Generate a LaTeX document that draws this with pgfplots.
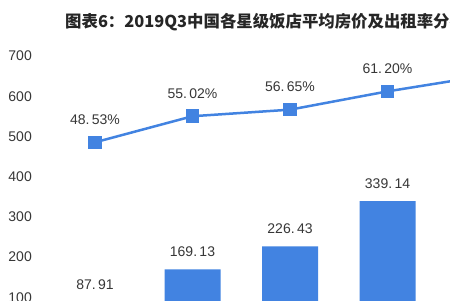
\documentclass[border=0pt]{standalone}
\usepackage{pgfplots}
\pgfplotsset{compat=1.18}
\usepackage{fontspec}
\setmainfont{Liberation Sans}
\newfontfamily\cjk{Noto Sans CJK SC}
\definecolor{barblue}{RGB}{66,131,225}
\definecolor{txt}{RGB}{55,55,55}
\definecolor{titlec}{RGB}{38,38,38}
\begin{document}
\begin{tikzpicture}[x=1bp,y=1bp]
\useasboundingbox (0,0) rectangle (450,300);
\clip (0,0) rectangle (450,300);
\fill[white] (0,0) rectangle (450,300);
\pgfplotsset{base/.style={
  scale only axis, width=460bp, height=337.4bp,
  at={(40bp,-37.4bp)}, anchor=south west,
  xmin=-0.5641, xmax=4.1538,
  axis line style={draw=none}, xtick=\empty, major tick length=0pt,
  /pgf/number format/assume math mode=true,
  /pgf/number format/dec sep={.\,},
  /pgf/number format/fixed, /pgf/number format/fixed zerofill,
  /pgf/number format/precision=2,
}}
\begin{axis}[base,
  ymin=0, ymax=839.3,
  ytick={100,200,300,400,500,600,700},
  yticklabel style={font=\fontsize{14bp}{16bp}\selectfont, text=txt, inner sep=0pt, xshift=-8bp,
    /pgf/number format/precision=0, /pgf/number format/fixed zerofill=false},
  ybar, bar width=56bp,
  nodes near coords,
  every node near coord/.append style={font=\fontsize{14bp}{16bp}\selectfont, text=txt, anchor=south, inner sep=0pt, yshift=12.5bp},
]
\addplot[fill=barblue, draw=none] coordinates {(0,87.91) (1,169.13) (2,226.43) (3,339.14)};
\end{axis}
\begin{axis}[base, hide axis,
  ymin=0, ymax=83.93,
  nodes near coords={\pgfmathprintnumber{\pgfplotspointmeta}\%},
  every node near coord/.append style={font=\fontsize{14bp}{16bp}\selectfont, text=txt, anchor=south, inner sep=0pt, yshift=18bp},
]
\addplot[color=barblue, line width=2.5bp, mark=square*, mark size=6.3bp, mark options={fill=barblue, draw=barblue, line width=0pt}]
  coordinates {(0,48.53) (1,55.02) (2,56.65) (3,61.20) (4,65.10)};
\end{axis}
\node[anchor=west, inner sep=0pt, text=titlec, font=\cjk\bfseries\fontsize{16.4bp}{19bp}\selectfont] at (65,278) {图表6：2019Q3中国各星级饭店平均房价及出租率分布};
\end{tikzpicture}
\end{document}
